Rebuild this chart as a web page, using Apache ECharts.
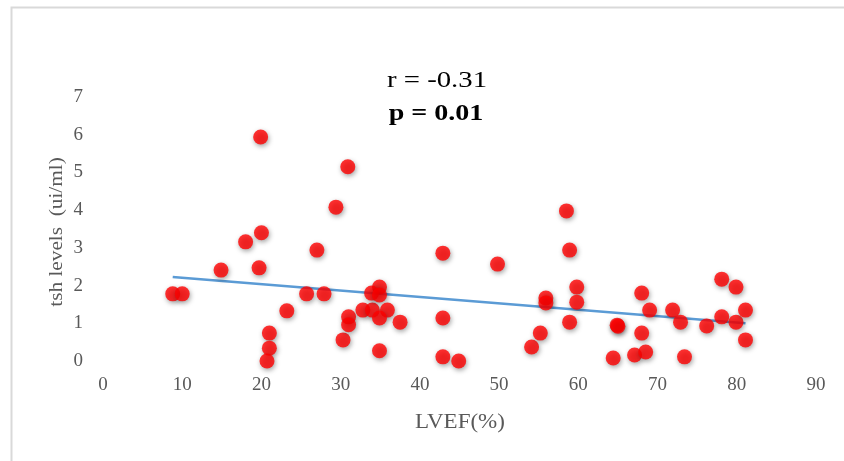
<!DOCTYPE html>
<html><head><meta charset="utf-8">
<script src="https://cdn.jsdelivr.net/npm/echarts@6/dist/echarts.min.js"></script>
<style>html,body{margin:0;padding:0;background:#fff}#c{width:844px;height:461px}</style>
</head><body><div id="c"></div>
<script>
var lvef = [8.8,10.0,14.9,18.0,20.0,19.7,19.9,21.0,21.0,20.7,23.2,25.7,27.0,27.9,29.4,30.3,30.9,31.0,31.0,32.8,34.0,34.9,33.9,34.9,35.9,34.9,34.9,37.5,42.9,42.9,42.9,44.9,49.8,54.1,55.2,55.9,55.9,58.5,58.9,58.9,59.8,59.8,64.9,65.0,64.4,67.1,68.5,68.0,69.0,68.0,71.9,72.9,73.4,76.2,78.1,78.1,79.9,79.9,81.1,81.1];
var tsh = [1.78,1.78,2.41,3.16,3.40,2.47,5.94,0.74,0.34,0.0,1.33,1.78,2.94,1.78,4.08,0.56,5.15,1.17,0.96,1.35,1.35,1.96,1.8,1.75,1.35,1.14,0.27,1.03,2.86,1.14,0.11,0.0,2.57,0.37,0.74,1.67,1.54,3.98,2.94,1.03,1.96,1.56,0.95,0.92,0.08,0.16,0.24,1.8,1.35,0.74,1.35,1.03,0.11,0.93,2.17,1.17,1.96,1.03,1.35,0.56];
var trendX = [8.8, 81.1];
var trendY = [2.23, 1.0];
var xTicks = [0,10,20,30,40,50,60,70,80,90];
var yTicks = [0,1,2,3,4,5,6,7];
var pts = lvef.map(function(v,i){return [v, tsh[i]];});
var chart = echarts.init(document.getElementById('c'));
var serif = '"Liberation Serif","DejaVu Serif",serif';
chart.setOption({
  animation:false,
  backgroundColor:'#fff',
  graphic:[
    {type:'rect',left:9,top:5,shape:{width:900,height:500},style:{fill:'none',stroke:'#d9d9d9',lineWidth:2},z:-1},
    {type:'text',x:437,y:81,scaleX:1.25,style:{x:0,y:0,text:'r = -0.31',font:'23px '+serif,fill:'#000',textAlign:'center',textVerticalAlign:'middle'}},
    {type:'text',x:436,y:114,scaleX:1.22,style:{x:0,y:0,text:'p = 0.01',font:'bold 23px '+serif,fill:'#000',textAlign:'center',textVerticalAlign:'middle'}},
    {type:'text',x:460,y:423,scaleX:1.15,style:{x:0,y:0,text:'LVEF(%)',font:'20px '+serif,fill:'#595959',textAlign:'center',textVerticalAlign:'middle'}},
    {type:'text',x:57,y:232,rotation:Math.PI/2,scaleX:1.12,style:{x:0,y:0,text:'tsh levels  (ui/ml)',font:'19px '+serif,fill:'#595959',textAlign:'center',textVerticalAlign:'middle'}}
  ],
  grid:{left:103,right:28,top:97,bottom:100},
  xAxis:{type:'value',min:0,max:90,interval:10,
    axisLine:{show:false},axisTick:{show:false},splitLine:{show:false},
    axisLabel:{fontFamily:serif,fontSize:19,color:'#595959',margin:15}},
  yAxis:{type:'value',min:0,max:7,interval:1,
    axisLine:{show:false},axisTick:{show:false},splitLine:{show:false},
    axisLabel:{fontFamily:serif,fontSize:19,color:'#595959',margin:20}},
  series:[
    {type:'line',data:trendX.map(function(v,i){return [v,trendY[i]];}),symbol:'none',
     lineStyle:{color:'#5b9bd5',width:2.5},z:1},
    {type:'scatter',data:pts,symbolSize:15,
     itemStyle:{color:'#ff0000',shadowBlur:5,shadowColor:'rgba(0,0,0,0.45)',shadowOffsetX:1,shadowOffsetY:2},z:2}
  ]
});
</script></body></html>
